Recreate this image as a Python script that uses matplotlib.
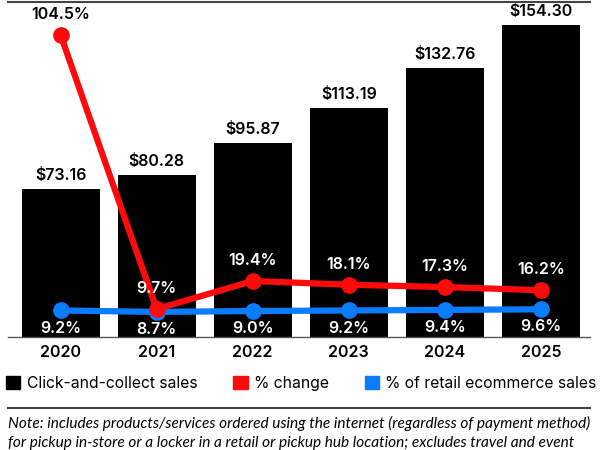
import matplotlib.pyplot as plt
from matplotlib.patches import Patch
from matplotlib.lines import Line2D

years = ['2020', '2021', '2022', '2023', '2024', '2025']
sales = [73.16, 80.28, 95.87, 113.19, 132.76, 154.30]
pct_change = [104.5, 9.7, 19.4, 18.1, 17.3, 16.2]
pct_retail = [9.2, 8.7, 9.0, 9.2, 9.4, 9.6]

RED = '#ff0a0a'
BLUE = '#0a7cff'
plt.rcParams['font.family'] = ['Inter', 'DejaVu Sans']

fig = plt.figure(figsize=(6, 4.5), dpi=100)
ax = fig.add_axes([0.013, 0.251, 0.97, 0.745])
x = list(range(len(years)))

ax.bar(x, sales, width=0.81, color='black', zorder=1)
for i, v in enumerate(sales):
    ax.text(i, v + 3, '${:.2f}'.format(v), ha='center', va='bottom',
            fontsize=11.5, fontweight='semibold', color='black')
ax.set_ylim(0, 165.7)
ax.set_xlim(-0.55, 5.51)
ax.set_yticks([])
ax.set_xticks(x)
ax.set_xticklabels(years, fontsize=11.5, fontweight='semibold')
ax.tick_params(axis='x', length=0, pad=6)
for s in ['top', 'right', 'left']:
    ax.spines[s].set_visible(False)
ax.spines['bottom'].set_color('#555555')
ax.spines['bottom'].set_linewidth(1)

ax2 = ax.twinx()
ax2.set_ylim(0, 116)
ax2.set_yticks([])
for s in ax2.spines.values():
    s.set_visible(False)
ax2.plot(x, pct_retail, color=BLUE, lw=4.5, marker='o', markersize=11, zorder=2)
ax2.plot(x, pct_change, color=RED, lw=4.5, marker='o', markersize=11, zorder=3)

for i, v in enumerate(pct_change):
    col = 'black' if i == 0 else 'white'
    ax2.text(i, v + 4.5, '{:.1f}%'.format(v), ha='center', va='bottom',
             fontsize=11.5, fontweight='semibold', color=col)
for i, v in enumerate(pct_retail):
    ax2.text(i, v - 3.5, '{:.1f}%'.format(v), ha='center', va='top',
             fontsize=11.5, fontweight='semibold', color='white')

# top rule and note rule
fig.add_artist(Line2D([0.013, 0.983], [0.996, 0.996], color='#444444', lw=1.5))
fig.add_artist(Line2D([0.013, 0.983], [0.093, 0.093], color='#444444', lw=1.5))

handles = [Patch(color='black'), Patch(color=RED), Patch(color=BLUE)]
labels = ['Click-and-collect sales', '% change', '% of retail ecommerce sales']
fig.legend(handles, labels, loc='center left', bbox_to_anchor=(0.0, 0.148),
           ncol=3, frameon=False, fontsize=11.3, handlelength=0.9, handleheight=0.9,
           handletextpad=0.4, columnspacing=2.3, borderaxespad=0)

note = ('Note: includes products/services ordered using the internet (regardless of payment method)\n'
        'for pickup in-store or a locker in a retail or pickup hub location; excludes travel and event\n'
        'tickets; payments such as bill pay, taxes or money transfers; food services and drinking places')
fig.text(0.013, 0.076, note, ha='left', va='top', fontsize=11.1, style='italic',
         linespacing=1.5, family=['Lato', 'DejaVu Sans'])

fig.savefig('out.png', dpi=100)
